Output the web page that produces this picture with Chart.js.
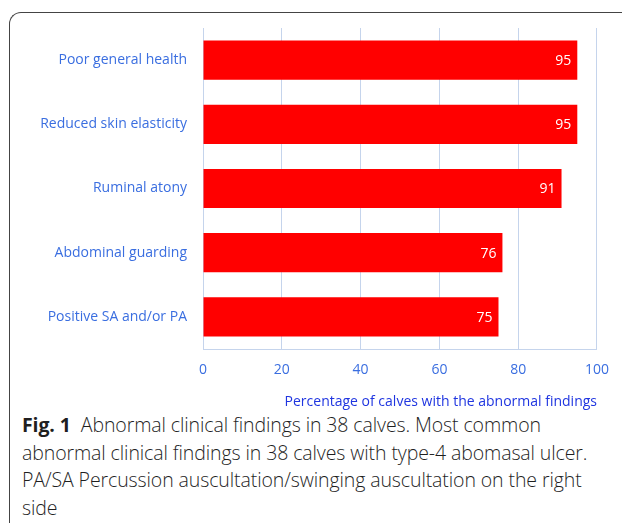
<!DOCTYPE html>
<html><head><meta charset="utf-8">
<script src="https://cdn.jsdelivr.net/npm/chart.js@4"></script>
<style>
html,body{margin:0;padding:0;background:#fff;width:622px;height:523px;overflow:hidden;}
#frame{position:absolute;left:9px;top:12px;width:700px;height:600px;border-left:1.5px solid #444;border-top:1.5px solid #444;border-top-left-radius:12px;}
#wrap{position:absolute;left:0;top:0;width:622px;height:410px;}
#cap{position:absolute;left:22px;top:411px;width:582px;font-family:"Open Sans","Noto Sans",sans-serif;font-weight:300;font-size:19.5px;line-height:27.5px;color:#1f1f1f;letter-spacing:-0.1px;}
#cap b{font-weight:700;}
</style></head><body>
<div id="frame"></div>
<div id="wrap"><canvas id="c" width="622" height="410"></canvas></div>
<div id="cap"><b>Fig. 1</b>&nbsp; Abnormal clinical findings in 38 calves. Most common abnormal clinical findings in 38 calves with type-4 abomasal ulcer. PA/SA Percussion auscultation/swinging auscultation on the right side</div>
<script>
const categories = ["Poor general health","Reduced skin elasticity","Ruminal atony","Abdominal guarding","Positive SA and/or PA"];
const values = [95,95,91,76,75];
const xTicks = [0,20,40,60,80,100];
const xTitle = "Percentage of calves with the abnormal findings";

const labelPlugin = {
  id:'vals',
  afterDatasetsDraw(chart){
    const ctx = chart.ctx;
    const meta = chart.getDatasetMeta(0);
    ctx.save();
    ctx.fillStyle = '#fff';
    ctx.font = '14px "Open Sans", sans-serif';
    ctx.textAlign = 'right';
    ctx.textBaseline = 'middle';
    meta.data.forEach((bar,i)=>{
      ctx.fillText(String(values[i]), bar.x - 6, bar.y + 1);
    });
    ctx.restore();
  }
};

new Chart(document.getElementById('c'),{
  type:'bar',
  data:{labels:categories,datasets:[{data:values,backgroundColor:'#ff0000',borderWidth:0,barPercentage:0.61,categoryPercentage:1}]},
  options:{
    indexAxis:'y',responsive:false,animation:false,
    layout:{padding:{top:28,right:25,left:0,bottom:0}},
    plugins:{legend:{display:false},tooltip:{enabled:false}},
    scales:{
      x:{min:0,max:100,
        afterBuildTicks(s){s.ticks = xTicks.map(v=>({value:v}));},
        afterFit(s){s.height = 61;},
        grid:{color:'#c5d4ec',lineWidth:1,drawTicks:false},
        border:{color:'#c5d4ec',width:1},
        ticks:{color:'#3a6ee0',font:{family:'"Open Sans", sans-serif',size:14},padding:13},
        title:{display:true,text:xTitle,align:'end',color:'#1f35e0',font:{family:'"Open Sans", sans-serif',size:14},padding:{top:1,bottom:0}}
      },
      y:{
        afterFit(s){s.width = 203;},
        grid:{display:false,drawTicks:false},
        border:{display:false},
        ticks:{color:'#3a6ee0',font:{family:'"Open Sans", sans-serif',size:14},padding:16}
      }
    }
  },
  plugins:[labelPlugin]
});
</script>
</body></html>
